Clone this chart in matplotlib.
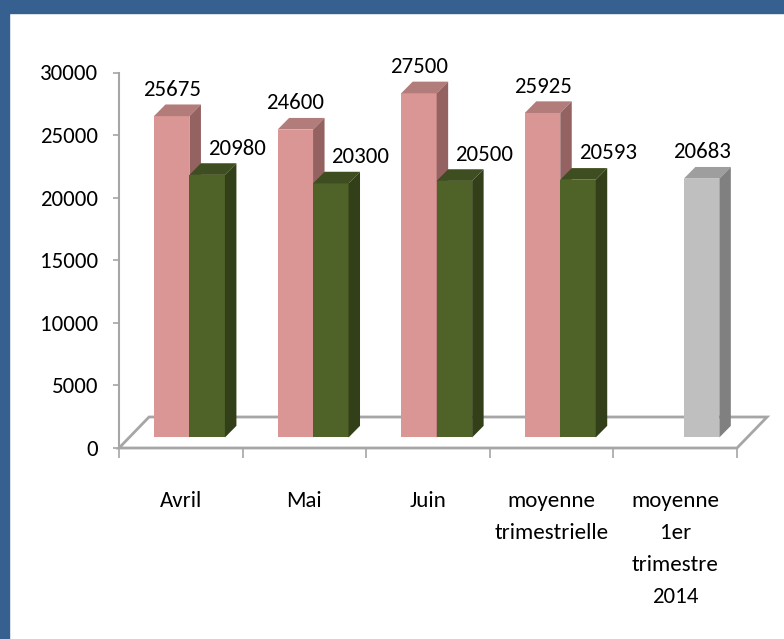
import matplotlib
matplotlib.use('Agg')
import matplotlib.pyplot as plt
from matplotlib.patches import Polygon, Rectangle

categories = ['Avril', 'Mai', 'Juin', 'moyenne\ntrimestrielle', 'moyenne\n1er\ntrimestre\n2014']
pink_values = [25675, 24600, 27500, 25925, None]
green_values = [20980, 20300, 20500, 20593, 20683]
yticks = [0, 5000, 10000, 15000, 20000, 25000, 30000]

plt.rcParams['font.family'] = ['Carlito', 'DejaVu Sans']
FS = 16.5

W, H = 784, 639
fig = plt.figure(figsize=(W / 100, H / 100), dpi=100)
fig.patch.set_facecolor('white')
BLUE = '#35608F'
fig.patches.append(Rectangle((0, 0), 9 / W, 1, transform=fig.transFigure, color=BLUE, zorder=0))
fig.patches.append(Rectangle((0, 1 - 13 / H), 1, 13 / H, transform=fig.transFigure, color=BLUE, zorder=0))

x0, x1 = 119, 737
y0, y1 = 448, 72.5
ax = fig.add_axes([x0 / W, (H - y0) / H, (x1 - x0) / W, (y0 - y1) / H])
ax.set_xlim(0, 5)
ax.set_ylim(0, 30000)
ax.patch.set_alpha(0)

GREY = '#a6a6a6'
FDX, FDY = 0.243, 2477
BASE = 840
BDX, BDY = 0.093, 930
BW = 0.287
PINK_OFF, GREEN_OFF = 0.283, 0.57
LABEL_DY = 2100

floor = Polygon([(0, 0), (5, 0), (5 + FDX, FDY), (FDX, FDY)], closed=True,
                facecolor='white', edgecolor=GREY, lw=2, clip_on=False, zorder=1)
ax.add_patch(floor)


def draw_bar(x, v, front, top, side, z, loff):
    ax.bar(x, v, width=BW, bottom=BASE, align='edge', color=front, zorder=z,
           linewidth=0, clip_on=False)
    t = BASE + v
    ax.add_patch(Polygon([(x, t), (x + BW, t), (x + BW + BDX, t + BDY), (x + BDX, t + BDY)],
                         closed=True, facecolor=top, edgecolor='none', zorder=z, clip_on=False))
    ax.add_patch(Polygon([(x + BW, BASE), (x + BW + BDX, BASE + BDY), (x + BW + BDX, t + BDY), (x + BW, t)],
                         closed=True, facecolor=side, edgecolor='none', zorder=z, clip_on=False))
    ax.text(x + BW / 2 + loff, t + LABEL_DY, str(v), ha='center', va='center',
            fontsize=FS, color='black', zorder=10, clip_on=False)


for i, (p, g) in enumerate(zip(pink_values, green_values)):
    if p is not None:
        draw_bar(i + PINK_OFF, p, '#D99694', '#B27C7B', '#936261', 3, 0)
    if p is not None:
        draw_bar(i + GREEN_OFF, g, '#4F6228', '#3F4E20', '#333F19', 4, 0.24)
    else:
        draw_bar(i + GREEN_OFF, g, '#BFBFBF', '#9E9E9E', '#808080', 4, 0)

for s in ['top', 'right', 'bottom']:
    ax.spines[s].set_visible(False)
ax.spines['left'].set_color(GREY)
ax.spines['left'].set_linewidth(1.5)
ax.spines['left'].set_zorder(2)

ax.set_yticks(yticks)
ax.set_yticklabels([str(v) for v in yticks])
ax.tick_params(axis='y', direction='out', length=4, width=1.2, color=GREY, pad=11,
               labelsize=FS, labelcolor='black')

ax.set_xticks(range(6))
ax.set_xticklabels([''] * 6)
ax.set_xticks([i + 0.5 for i in range(5)], minor=True)
ax.set_xticklabels(categories, minor=True, fontsize=FS, linespacing=1.75)
ax.tick_params(axis='x', which='major', direction='out', length=7.2, width=1.2, color=GREY)
ax.tick_params(axis='x', which='minor', length=0, pad=31, labelcolor='black')

fig.savefig('out.png', dpi=100, facecolor='white')
